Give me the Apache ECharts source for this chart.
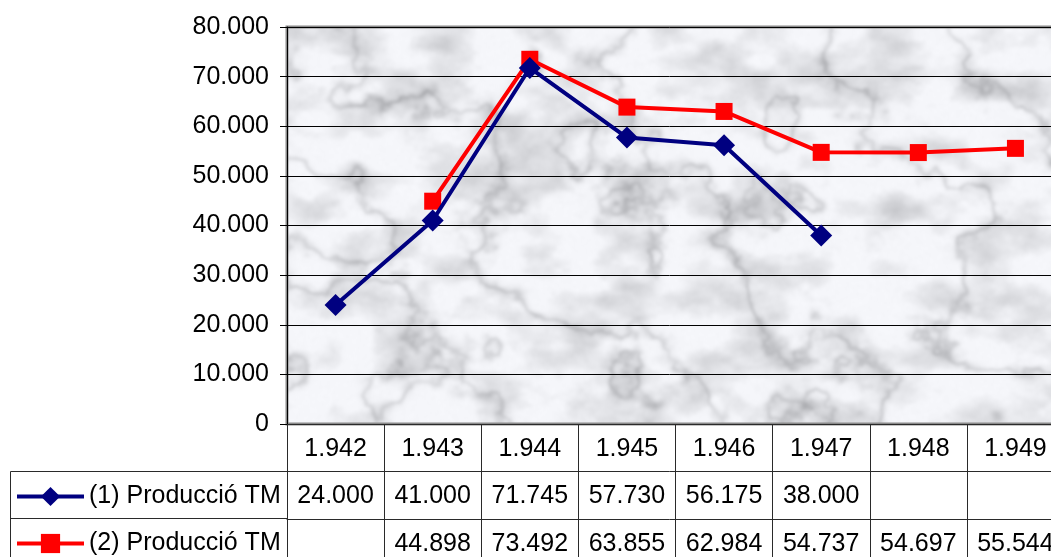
<!DOCTYPE html>
<html>
<head>
<meta charset="utf-8">
<script src="https://cdn.jsdelivr.net/npm/echarts@6/dist/echarts.min.js"></script>
<style>
  html, body { margin: 0; padding: 0; background: #ffffff; }
  #chart { width: 1051px; height: 557px; }
</style>
</head>
<body>
<div id="chart"></div>
<script>
// Years shown along the bottom and in the data table header
const years = [1942, 1943, 1944, 1945, 1946, 1947, 1948, 1949];
// Production in tonnes
const produccio1 = [24000, 41000, 71745, 57730, 56175, 38000, null, null];
const produccio2 = [null, 44898, 73492, 63855, 62984, 54737, 54697, 55544];
const seriesNames = ['(1) Producció TM', '(2) Producció TM'];
const yTicks = { min: 0, max: 80000, interval: 10000 };

// Thousands separated by dots, e.g. 24000 -> "24.000"
function fmt(v) {
  if (v === null || v === undefined || v === '') return '';
  return String(v).replace(/\B(?=(\d{3})+(?!\d))/g, '.');
}

// Grey marble texture for the plot background (deterministic value noise)
function marbleTexture(w, h) {
  const raw = document.createElement('canvas');
  raw.width = w; raw.height = h;
  const ctx = raw.getContext('2d');
  const img = ctx.createImageData(w, h);
  const hash = (x, y) => {
    const s = Math.sin(x * 127.1 + y * 311.7) * 43758.5453;
    return s - Math.floor(s);
  };
  const smooth = t => t * t * (3 - 2 * t);
  const noise = (x, y) => {
    const xi = Math.floor(x), yi = Math.floor(y);
    const xf = smooth(x - xi), yf = smooth(y - yi);
    const a = hash(xi, yi), b = hash(xi + 1, yi);
    const c2 = hash(xi, yi + 1), d = hash(xi + 1, yi + 1);
    return a + (b - a) * xf + (c2 - a) * yf + (a - b - c2 + d) * xf * yf;
  };
  const fbm = (x, y) => {
    let v = 0, amp = 0.5, f = 1;
    for (let i = 0; i < 5; i++) { v += amp * noise(x * f, y * f); f *= 2; amp *= 0.5; }
    return v;
  };
  for (let y = 0; y < h; y++) {
    for (let x = 0; x < w; x++) {
      const cloud = fbm(x / 45 + 3.1, y / 30);
      const t = fbm(x / 80 + 7.3, y / 70 + 2.1);
      const vein = Math.abs(Math.sin((x * 0.016 - y * 0.011) + t * 7));
      const veinDark = Math.pow(1 - vein, 5) * (0.4 + fbm(x / 25, y / 25));
      let g = 247 - Math.max(0, cloud - 0.42) * 105 - veinDark * 42 - (hash(x, y) - 0.5) * 8;
      g = Math.max(150, Math.min(252, g));
      const i = (y * w + x) * 4;
      img.data[i] = g - 2;
      img.data[i + 1] = g - 1;
      img.data[i + 2] = Math.min(255, g + 3);
      img.data[i + 3] = 255;
    }
  }
  ctx.putImageData(img, 0, 0);
  // soften the pattern
  const out = document.createElement('canvas');
  out.width = w; out.height = h;
  const octx = out.getContext('2d');
  octx.filter = 'blur(1.8px)';
  octx.drawImage(raw, 0, 0);
  return out;
}

const FONT = "'Liberation Sans', Arial, sans-serif";
const FONT_SIZE = 25;
const TABLE_LINE = '#2a2a2a';
const ROW_H = 47;

const chart = echarts.init(document.getElementById('chart'), null, { renderer: 'canvas' });

const tableAxis = (offset, rowValues) => ({
  type: 'category',
  data: years.map(String),
  position: 'bottom',
  offset: offset,
  gridIndex: 0,
  boundaryGap: true,
  axisLine: { show: true, lineStyle: { color: TABLE_LINE, width: 1 } },
  axisTick: { show: true, inside: false, length: ROW_H + 2, interval: 0, lineStyle: { color: TABLE_LINE, width: 1 } },
  axisLabel: {
    show: true,
    interval: 0,
    margin: 13,
    fontFamily: FONT,
    fontSize: FONT_SIZE,
    color: '#000',
    formatter: (val, idx) => fmt(rowValues[idx])
  },
  splitLine: { show: false }
});

// One legend per table row, so each key sits in its own row cell
const rowLegend = (name, top) => ({
  orient: 'horizontal',
  left: 15,
  top: top,
  padding: 0,
  itemWidth: 67,
  itemHeight: 24,
  lineStyle: { width: 4 },
  textStyle: { fontFamily: FONT, fontSize: FONT_SIZE, color: '#000' },
  data: [name]
});

const option = {
  animation: false,
  backgroundColor: '#ffffff',
  grid: {
    left: 287,
    top: 27,
    width: 777,
    height: 397,
    outerBoundsMode: 'none',
    containLabel: false,
    show: true,
    backgroundColor: { image: marbleTexture(1064, 430), repeat: 'no-repeat' },
    borderColor: '#8a8a8a',
    borderWidth: 3
  },
  legend: [
    rowLegend(seriesNames[0], 484),
    rowLegend(seriesNames[1], 531)
  ],
  xAxis: [
    tableAxis(0, years),
    tableAxis(ROW_H, produccio1),
    tableAxis(ROW_H * 2 + 1, produccio2)
  ],
  yAxis: {
    type: 'value',
    min: yTicks.min,
    max: yTicks.max,
    interval: yTicks.interval,
    axisLine: { show: true, lineStyle: { color: '#000', width: 1 } },
    axisTick: { show: true, length: 7, lineStyle: { color: '#000' } },
    axisLabel: {
      margin: 18,
      fontFamily: FONT,
      fontSize: FONT_SIZE,
      color: '#000',
      formatter: (v) => fmt(v)
    },
    splitLine: { show: true, lineStyle: { color: '#000', width: 1 } }
  },
  series: [
    {
      name: seriesNames[0],
      type: 'line',
      xAxisIndex: 0,
      data: produccio1,
      symbol: 'diamond',
      symbolSize: 22,
      lineStyle: { color: '#000080', width: 4 },
      itemStyle: { color: '#000080' },
      z: 3
    },
    {
      name: seriesNames[1],
      type: 'line',
      xAxisIndex: 0,
      data: produccio2,
      symbol: 'rect',
      symbolSize: 17,
      lineStyle: { color: '#ff0000', width: 4 },
      itemStyle: { color: '#ff0000' },
      z: 2
    }
  ],
  graphic: [
    // left cell borders of the data table (legend column)
    {
      type: 'polyline',
      silent: true,
      shape: { points: [[287, 471.5], [10.5, 471.5], [10.5, 560]] },
      style: { stroke: TABLE_LINE, lineWidth: 1, fill: null }
    },
    {
      type: 'line',
      silent: true,
      shape: { x1: 10.5, y1: 518.5, x2: 287, y2: 518.5 },
      style: { stroke: TABLE_LINE, lineWidth: 1 }
    }
  ]
};

chart.setOption(option);
</script>
</body>
</html>
